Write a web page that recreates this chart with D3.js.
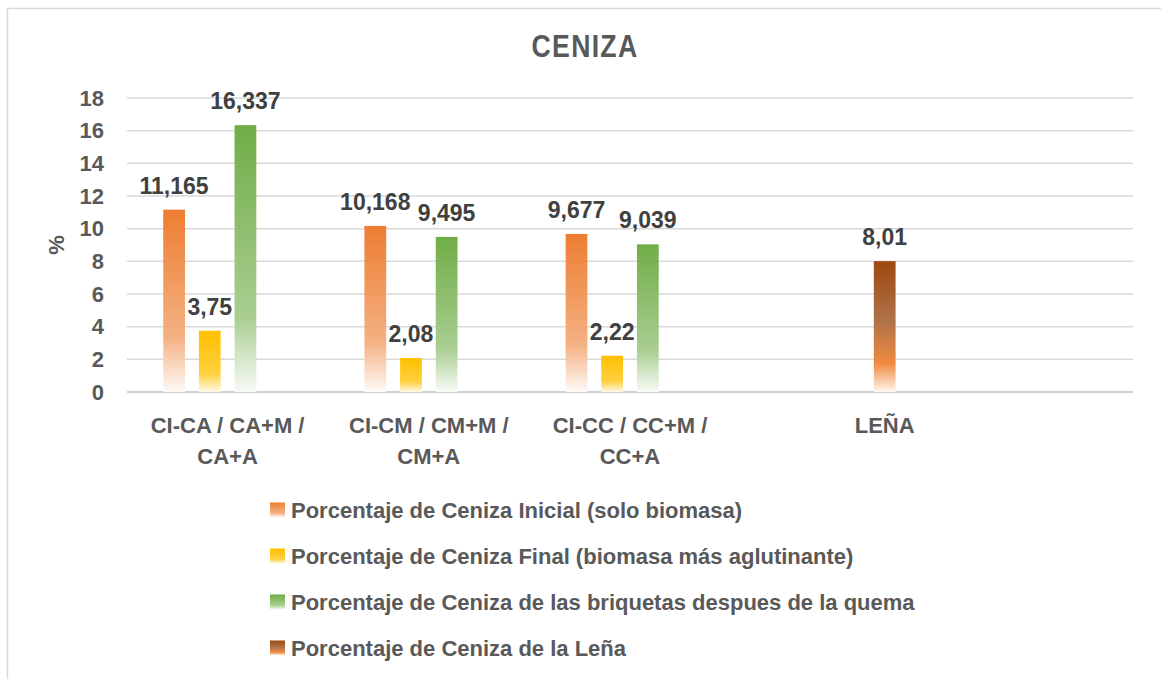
<!DOCTYPE html>
<html>
<head>
<meta charset="utf-8">
<script src="https://cdn.jsdelivr.net/npm/d3@7"></script>
<style>
  body { margin: 0; background: #fff; }
  svg { display: block; font-family: "Liberation Sans Narrow", "Arial Narrow", "Liberation Sans", Arial, sans-serif; font-weight: bold; }
</style>
</head>
<body>
<svg id="chart" width="1161" height="679"></svg>
<script>
// categories (last one is an empty slot, like the original sheet)
const categories = ["CI-CA / CA+M / CA+A", "CI-CM / CM+M / CM+A", "CI-CC / CC+M / CC+A", "LEÑA", ""];
const categoryLines = [["CI-CA / CA+M /", "CA+A"], ["CI-CM / CM+M /", "CM+A"], ["CI-CC / CC+M /", "CC+A"], ["LEÑA"], []];

const seriesNames = [
  "Porcentaje de Ceniza Inicial (solo biomasa)",
  "Porcentaje de Ceniza Final (biomasa más aglutinante)",
  "Porcentaje de Ceniza de las briquetas despues de la quema",
  "Porcentaje de Ceniza de la Leña"
];
const inicial   = [11.165, 10.168, 9.677, null, null];
const final     = [3.75, 2.08, 2.22, null, null];
const briquetas = [16.337, 9.495, 9.039, null, null];
const lena      = [null, null, null, 8.01, null];
const seriesValues = [inicial, final, briquetas, lena];

const yTicks = [0, 2, 4, 6, 8, 10, 12, 14, 16, 18];

const fmt = v => String(v).replace(".", ",");

const svg = d3.select("#chart");

const margin = { top: 98, right: 28, bottom: 287, left: 127 };
const width = 1161 - margin.left - margin.right;
const height = 679 - margin.top - margin.bottom;

// chart frame
svg.append("rect")
  .attr("x", 7.5).attr("y", 8.5)
  .attr("width", 1170).attr("height", 690)
  .attr("fill", "#fff")
  .attr("stroke", "#d9d9d9")
  .attr("stroke-width", 1.5);

// gradients
const defs = svg.append("defs");
const mix = (c, t) => d3.interpolateRgb(c, "#ffffff")(t);
const gradStops = [
  [{ o: 0, c: "#ED7D31" }, { o: 0.7, c: mix("#ED7D31", 0.4) }, { o: 1, c: mix("#ED7D31", 0.96) }],
  [{ o: 0, c: "#FFC000" }, { o: 0.7, c: mix("#FFC000", 0.25) }, { o: 1, c: mix("#FFC000", 0.9) }],
  [{ o: 0, c: "#70AD47" }, { o: 0.72, c: mix("#70AD47", 0.4) }, { o: 1, c: mix("#70AD47", 0.95) }],
  [{ o: 0, c: "#9E480E" }, { o: 0.45, c: "#AE7249" }, { o: 0.78, c: "#F08A40" }, { o: 1, c: "#FFF7F1" }]
];
gradStops.forEach((stops, i) => {
  const g = defs.append("linearGradient")
    .attr("id", "grad" + i)
    .attr("x1", 0).attr("y1", 0).attr("x2", 0).attr("y2", 1);
  stops.forEach(s => g.append("stop").attr("offset", s.o).attr("stop-color", s.c));
});

const x0 = d3.scaleBand()
  .domain(categories)
  .range([0, width])
  .paddingInner(0.36)
  .paddingOuter(0.18);

const x1 = d3.scaleBand()
  .domain(d3.range(seriesNames.length))
  .range([0, x0.bandwidth()])
  .paddingInner(0.39);

const y = d3.scaleLinear()
  .domain([0, 18])
  .range([height, 0]);

const g = svg.append("g")
  .attr("transform", `translate(${margin.left},${margin.top})`);

// gridlines
g.append("g")
  .selectAll("line")
  .data(yTicks)
  .join("line")
  .attr("x1", 0).attr("x2", width)
  .attr("y1", d => y(d)).attr("y2", d => y(d))
  .attr("stroke", d => d === 0 ? "#d0d0d0" : "#d9d9d9")
  .attr("stroke-width", d => d === 0 ? 2.2 : 1.5);

// y tick labels
g.append("g")
  .selectAll("text")
  .data(yTicks)
  .join("text")
  .attr("x", -23)
  .attr("y", d => y(d))
  .attr("dy", "0.35em")
  .attr("text-anchor", "end")
  .attr("font-size", 22)
  .attr("fill", "#595959")
  .text(d => d);

// bars
const bars = [];
seriesValues.forEach((vals, s) => {
  vals.forEach((v, c) => {
    if (v != null) bars.push({ s, c: categories[c], v });
  });
});

g.append("g")
  .selectAll("rect")
  .data(bars)
  .join("rect")
  .attr("x", d => x0(d.c) + x1(d.s))
  .attr("y", d => y(d.v))
  .attr("width", x1.bandwidth())
  .attr("height", d => height - y(d.v))
  .attr("fill", d => `url(#grad${d.s})`);

// data labels
g.append("g")
  .selectAll("text")
  .data(bars)
  .join("text")
  .attr("x", d => x0(d.c) + x1(d.s) + x1.bandwidth() / 2)
  .attr("y", d => y(d.v) - 16)
  .attr("text-anchor", "middle")
  .attr("font-size", 23)
  .attr("fill", "#404040")
  .text(d => fmt(d.v));

// category labels: centred on the group, or on the single bar of a one-bar group
const catX = (cat, i) => {
  const own = bars.filter(b => b.c === cat);
  if (own.length === 1) return x0(cat) + x1(own[0].s) + x1.bandwidth() / 2;
  return x0(cat) + x0.bandwidth() / 2;
};
const catG = g.append("g")
  .selectAll("text")
  .data(categories)
  .join("text")
  .attr("text-anchor", "middle")
  .attr("font-size", 22)
  .attr("fill", "#595959");
catG.each(function(cat, i) {
  const t = d3.select(this);
  categoryLines[i].forEach((line, k) => {
    t.append("tspan")
      .attr("x", catX(cat, i))
      .attr("y", height + 41 + k * 31)
      .text(line);
  });
});

// y axis title
svg.append("text")
  .attr("transform", `translate(64,${margin.top + height / 2}) rotate(-90)`)
  .attr("text-anchor", "middle")
  .attr("font-size", 22)
  .attr("fill", "#595959")
  .text("%");

// title (condensed a little, the original font is narrow)
svg.append("text")
  .attr("transform", "translate(585,57) scale(0.86,1)")
  .attr("text-anchor", "middle")
  .attr("font-size", 31)
  .attr("letter-spacing", 1.5)
  .attr("fill", "#595959")
  .text("CENIZA");

// legend
const legend = svg.append("g")
  .selectAll("g")
  .data(seriesNames)
  .join("g")
  .attr("transform", (d, i) => `translate(270,${510 + i * 46})`);

legend.append("rect")
  .attr("y", -7.5)
  .attr("width", 15)
  .attr("height", 15)
  .attr("fill", (d, i) => `url(#grad${i})`);

legend.append("text")
  .attr("x", 21)
  .attr("dy", "0.35em")
  .attr("font-size", 22)
  .attr("fill", "#595959")
  .text(d => d);
</script>
</body>
</html>
